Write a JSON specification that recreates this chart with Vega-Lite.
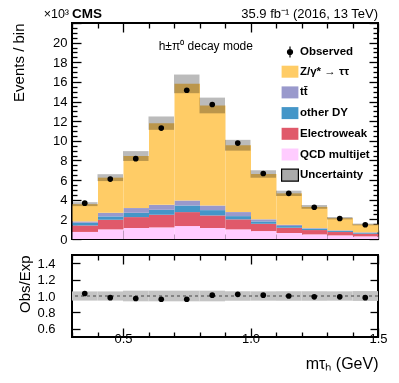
{
  "$schema": "https://vega.github.io/schema/vega-lite/v6.json",
  "padding": {"left": 10, "top": 6, "right": 18, "bottom": 4},
  "config": {
    "font": "Liberation Sans",
    "view": {"stroke": "black", "strokeWidth": 2},
    "axis": {"domain": false, "grid": false, "tickColor": "black", "tickWidth": 1.3, "labelColor": "black", "titleColor": "black", "labelFont": "Liberation Sans", "titleFont": "Liberation Sans", "labelFontSize": 13, "titleFontSize": 15, "titleFontWeight": "normal", "labelOverlap": false, "labelFlush": false}
  },
  "spacing": 6,
  "datasets": {
    "stackorder": [
      {"process":"QCD multijet","k":1},
      {"process":"Electroweak","k":2},
      {"process":"other DY","k":3},
      {"process":"tt\u0304","k":4},
      {"process":"Z/γ* → ττ","k":5}
    ],
    "mc": [
      {"start":0.3,"end":0.4,"process":"QCD multijet","value":0.72},
      {"start":0.4,"end":0.5,"process":"QCD multijet","value":0.98},
      {"start":0.5,"end":0.6,"process":"QCD multijet","value":1.12},
      {"start":0.6,"end":0.7,"process":"QCD multijet","value":1.18},
      {"start":0.7,"end":0.8,"process":"QCD multijet","value":1.32},
      {"start":0.8,"end":0.9,"process":"QCD multijet","value":1.12},
      {"start":0.9,"end":1.0,"process":"QCD multijet","value":0.98},
      {"start":1.0,"end":1.1,"process":"QCD multijet","value":0.81},
      {"start":1.1,"end":1.2,"process":"QCD multijet","value":0.61},
      {"start":1.2,"end":1.3,"process":"QCD multijet","value":0.47},
      {"start":1.3,"end":1.4,"process":"QCD multijet","value":0.37},
      {"start":1.4,"end":1.5,"process":"QCD multijet","value":0.27},
      {"start":0.3,"end":0.4,"process":"Electroweak","value":0.66},
      {"start":0.4,"end":0.5,"process":"Electroweak","value":0.98},
      {"start":0.5,"end":0.6,"process":"Electroweak","value":1.11},
      {"start":0.6,"end":0.7,"process":"Electroweak","value":1.29},
      {"start":0.7,"end":0.8,"process":"Electroweak","value":1.42},
      {"start":0.8,"end":0.9,"process":"Electroweak","value":1.28},
      {"start":0.9,"end":1.0,"process":"Electroweak","value":1.02},
      {"start":1.0,"end":1.1,"process":"Electroweak","value":0.74},
      {"start":1.1,"end":1.2,"process":"Electroweak","value":0.54},
      {"start":1.2,"end":1.3,"process":"Electroweak","value":0.44},
      {"start":1.3,"end":1.4,"process":"Electroweak","value":0.34},
      {"start":1.4,"end":1.5,"process":"Electroweak","value":0.27},
      {"start":0.3,"end":0.4,"process":"other DY","value":0.27},
      {"start":0.4,"end":0.5,"process":"other DY","value":0.34},
      {"start":0.5,"end":0.6,"process":"other DY","value":0.44},
      {"start":0.6,"end":0.7,"process":"other DY","value":0.50},
      {"start":0.7,"end":0.8,"process":"other DY","value":0.67},
      {"start":0.8,"end":0.9,"process":"other DY","value":0.54},
      {"start":0.9,"end":1.0,"process":"other DY","value":0.33},
      {"start":1.0,"end":1.1,"process":"other DY","value":0.24},
      {"start":1.1,"end":1.2,"process":"other DY","value":0.17},
      {"start":1.2,"end":1.3,"process":"other DY","value":0.14},
      {"start":1.3,"end":1.4,"process":"other DY","value":0.10},
      {"start":1.4,"end":1.5,"process":"other DY","value":0.07},
      {"start":0.3,"end":0.4,"process":"tt\u0304","value":0.14},
      {"start":0.4,"end":0.5,"process":"tt\u0304","value":0.37},
      {"start":0.5,"end":0.6,"process":"tt\u0304","value":0.48},
      {"start":0.6,"end":0.7,"process":"tt\u0304","value":0.51},
      {"start":0.7,"end":0.8,"process":"tt\u0304","value":0.51},
      {"start":0.8,"end":0.9,"process":"tt\u0304","value":0.47},
      {"start":0.9,"end":1.0,"process":"tt\u0304","value":0.41},
      {"start":1.0,"end":1.1,"process":"tt\u0304","value":0.21},
      {"start":1.1,"end":1.2,"process":"tt\u0304","value":0.13},
      {"start":1.2,"end":1.3,"process":"tt\u0304","value":0.06},
      {"start":1.3,"end":1.4,"process":"tt\u0304","value":0.07},
      {"start":1.4,"end":1.5,"process":"tt\u0304","value":0.07},
      {"start":0.3,"end":0.4,"process":"Z/γ* → ττ","value":1.76},
      {"start":0.4,"end":0.5,"process":"Z/γ* → ττ","value":3.58},
      {"start":0.5,"end":0.6,"process":"Z/γ* → ττ","value":5.30},
      {"start":0.6,"end":0.7,"process":"Z/γ* → ττ","value":8.32},
      {"start":0.7,"end":0.8,"process":"Z/γ* → ττ","value":11.88},
      {"start":0.8,"end":0.9,"process":"Z/γ* → ττ","value":10.19},
      {"start":0.9,"end":1.0,"process":"Z/γ* → ττ","value":6.81},
      {"start":1.0,"end":1.1,"process":"Z/γ* → ττ","value":4.62},
      {"start":1.1,"end":1.2,"process":"Z/γ* → ττ","value":3.20},
      {"start":1.2,"end":1.3,"process":"Z/γ* → ττ","value":2.16},
      {"start":1.3,"end":1.4,"process":"Z/γ* → ττ","value":1.24},
      {"start":1.4,"end":1.5,"process":"Z/γ* → ττ","value":0.80}
    ],
    "unc": [
      {"start":0.3,"end":0.4,"down":3.35,"up":3.75,"rdown":0.944,"rup":1.056},
      {"start":0.4,"end":0.5,"down":5.90,"up":6.60,"rdown":0.944,"rup":1.056},
      {"start":0.5,"end":0.6,"down":7.95,"up":8.95,"rdown":0.935,"rup":1.065},
      {"start":0.6,"end":0.7,"down":11.12,"up":12.48,"rdown":0.935,"rup":1.065},
      {"start":0.7,"end":0.8,"down":14.85,"up":16.75,"rdown":0.935,"rup":1.065},
      {"start":0.8,"end":0.9,"down":12.80,"up":14.40,"rdown":0.935,"rup":1.065},
      {"start":0.9,"end":1.0,"down":9.00,"up":10.10,"rdown":0.942,"rup":1.058},
      {"start":1.0,"end":1.1,"down":6.24,"up":7.00,"rdown":0.943,"rup":1.057},
      {"start":1.1,"end":1.2,"down":4.38,"up":4.92,"rdown":0.942,"rup":1.058},
      {"start":1.2,"end":1.3,"down":3.08,"up":3.46,"rdown":0.942,"rup":1.058},
      {"start":1.3,"end":1.4,"down":2.00,"up":2.24,"rdown":0.943,"rup":1.057},
      {"start":1.4,"end":1.5,"down":1.39,"up":1.57,"rdown":0.94,"rup":1.06}
    ],
    "obs": [
      {"x":0.35,"obs":3.65,"ratio":1.03},
      {"x":0.45,"obs":6.10,"ratio":0.98},
      {"x":0.55,"obs":8.18,"ratio":0.97},
      {"x":0.65,"obs":11.30,"ratio":0.96},
      {"x":0.75,"obs":15.15,"ratio":0.96},
      {"x":0.85,"obs":13.70,"ratio":1.01},
      {"x":0.95,"obs":9.77,"ratio":1.02},
      {"x":1.05,"obs":6.67,"ratio":1.01},
      {"x":1.15,"obs":4.65,"ratio":1.00},
      {"x":1.25,"obs":3.23,"ratio":0.99},
      {"x":1.35,"obs":2.09,"ratio":0.99},
      {"x":1.45,"obs":1.45,"ratio":0.98}
    ],
    "one": [{}]
  },
  "vconcat": [
    {
      "width": 306,
      "height": 216,
      "resolve": {"axis": {"x": "independent", "y": "independent"}},
      "layer": [
        {
          "data": {"name": "mc"},
          "transform": [{"lookup": "process", "from": {"data": {"name": "stackorder"}, "key": "process", "fields": ["k"]}}],
          "mark": {"type": "bar", "binSpacing": 0},
          "encoding": {
            "x": {"field": "start", "type": "quantitative", "bin": {"binned": true},
                  "scale": {"domain": [0.3, 1.5], "nice": false, "zero": false},
                  "axis": {"orient": "bottom", "values": [0.3,0.4,0.5,0.6,0.7,0.8,0.9,1.0,1.1,1.2,1.3,1.4,1.5], "labels": false, "title": null,
                           "tickSize": {"condition": {"test": "abs(datum.value*2 - round(datum.value*2)) < 0.001", "value": -9}, "value": -5}}},
            "x2": {"field": "end"},
            "y": {"field": "value", "type": "quantitative", "stack": "zero",
                  "scale": {"domain": [0, 22], "nice": false},
                  "axis": {"orient": "left", "values": [0,0.5,1,1.5,2,2.5,3,3.5,4,4.5,5,5.5,6,6.5,7,7.5,8,8.5,9,9.5,10,10.5,11,11.5,12,12.5,13,13.5,14,14.5,15,15.5,16,16.5,17,17.5,18,18.5,19,19.5,20,20.5,21,21.5,22],
                           "labelExpr": "(datum.value % 2 === 0 && datum.value < 21) ? ('' + datum.value) : ''",
                           "tickSize": {"condition": {"test": "datum.value % 2 === 0", "value": -9}, "value": -5},
                           "labelPadding": 14, "title": "Events / bin", "titleAnchor": "end", "titlePadding": 26}},
            "order": {"field": "k", "type": "quantitative", "sort": "ascending"},
            "color": {"field": "process", "type": "nominal",
                      "scale": {"domain": ["Observed", "Z/γ* → ττ", "tt\u0304", "other DY", "Electroweak", "QCD multijet", "Uncertainty"],
                                "range": ["#000000", "#FFCC66", "#9999CC", "#4496C8", "#E0596A", "#FFCCFF", "#aaaaaa"]},
                      "legend": {"title": null, "orient": "none", "legendX": 211, "legendY": 22, "padding": 0,
                                 "labelFont": "Liberation Sans", "labelFontWeight": "bold", "labelFontSize": 11.5, "labelColor": "black",
                                 "symbolSize": 144, "rowPadding": 2.7, "labelOffset": 3, "labelLimit": 200,
                                 "encode": {"symbols": {"update": {
                                    "shape": [{"test": "datum.label === 'Observed'", "value": "M0,-0.9V0.9M-0.42,0A0.42,0.42 0 1,1 0.42,0A0.42,0.42 0 1,1 -0.42,0Z"}, {"value": "M-1.4,-1H1.4V1H-1.4Z"}],
                                    "stroke": [{"test": "datum.label === 'Observed' || datum.label === 'Uncertainty'", "value": "#000000"}, {"value": "transparent"}],
                                    "strokeWidth": {"value": 1.2},
                                    "opacity": {"value": 1}}}}}}
          }
        },
        {
          "data": {"name": "unc"},
          "mark": {"type": "rect", "fill": "#BBBBBB", "blend": "multiply"},
          "encoding": {
            "x": {"field": "start", "type": "quantitative", "scale": {"domain": [0.3, 1.5], "nice": false, "zero": false}, "axis": null},
            "x2": {"field": "end"},
            "y": {"field": "down", "type": "quantitative", "scale": {"domain": [0, 22], "nice": false}, "axis": null},
            "y2": {"field": "up"}
          }
        },
        {
          "data": {"name": "obs"},
          "mark": {"type": "point", "filled": true, "color": "black", "size": 32, "opacity": 1},
          "encoding": {
            "x": {"field": "x", "type": "quantitative", "scale": {"domain": [0.3, 1.5], "nice": false, "zero": false},
                  "axis": {"orient": "top", "values": [0.3,0.4,0.5,0.6,0.7,0.8,0.9,1.0,1.1,1.2,1.3,1.4,1.5], "labels": false, "title": null,
                           "tickSize": {"condition": {"test": "abs(datum.value*2 - round(datum.value*2)) < 0.001", "value": -9}, "value": -5}}},
            "y": {"field": "obs", "type": "quantitative", "scale": {"domain": [0, 22], "nice": false},
                  "axis": {"orient": "right", "values": [0,0.5,1,1.5,2,2.5,3,3.5,4,4.5,5,5.5,6,6.5,7,7.5,8,8.5,9,9.5,10,10.5,11,11.5,12,12.5,13,13.5,14,14.5,15,15.5,16,16.5,17,17.5,18,18.5,19,19.5,20,20.5,21,21.5,22],
                           "labels": false, "title": null,
                           "tickSize": {"condition": {"test": "datum.value % 2 === 0", "value": -9}, "value": -5}}}
          }
        },
        {
          "data": {"name": "one"},
          "mark": {"type": "text", "text": "h±π⁰ decay mode", "align": "left", "baseline": "middle", "fontSize": 12, "color": "black"},
          "encoding": {"x": {"datum": 0.64, "type": "quantitative", "axis": null}, "y": {"datum": 19.7, "type": "quantitative", "axis": null}}
        },
        {
          "data": {"name": "one"},
          "mark": {"type": "text", "text": "CMS", "align": "left", "baseline": "alphabetic", "fontSize": 13.5, "fontWeight": "bold", "dy": -5, "color": "black"},
          "encoding": {"x": {"datum": 0.3, "type": "quantitative", "axis": null}, "y": {"datum": 22, "type": "quantitative", "axis": null}}
        },
        {
          "data": {"name": "one"},
          "mark": {"type": "text", "text": "×10³", "align": "right", "baseline": "alphabetic", "fontSize": 12.5, "dx": -3, "dy": -5, "color": "black"},
          "encoding": {"x": {"datum": 0.3, "type": "quantitative", "axis": null}, "y": {"datum": 22, "type": "quantitative", "axis": null}}
        },
        {
          "data": {"name": "one"},
          "mark": {"type": "text", "text": "35.9 fb⁻¹ (2016, 13 TeV)", "align": "right", "baseline": "alphabetic", "fontSize": 13, "dy": -5, "color": "black"},
          "encoding": {"x": {"datum": 1.5, "type": "quantitative", "axis": null}, "y": {"datum": 22, "type": "quantitative", "axis": null}}
        }
      ]
    },
    {
      "width": 306,
      "height": 82,
      "resolve": {"axis": {"x": "independent", "y": "independent"}},
      "layer": [
        {
          "data": {"name": "unc"},
          "mark": {"type": "rect", "fill": "#C4C4C4"},
          "encoding": {
            "x": {"field": "start", "type": "quantitative", "scale": {"domain": [0.3, 1.5], "nice": false, "zero": false},
                  "axis": {"orient": "bottom", "values": [0.3,0.4,0.5,0.6,0.7,0.8,0.9,1.0,1.1,1.2,1.3,1.4,1.5], "format": ".1f",
                           "labelExpr": "abs(datum.value*2 - round(datum.value*2)) < 0.001 ? datum.label : ''",
                           "tickSize": {"condition": {"test": "abs(datum.value*2 - round(datum.value*2)) < 0.001", "value": -9}, "value": -5},
                           "labelPadding": 4, "title": "mτₕ (GeV)", "titleAnchor": "end", "titlePadding": 6, "titleFontSize": 16}},
            "x2": {"field": "end"},
            "y": {"field": "rdown", "type": "quantitative", "scale": {"domain": [0.5, 1.5], "nice": false, "zero": false},
                  "axis": {"orient": "left", "values": [0.6, 0.8, 1.0, 1.2, 1.4], "format": ".1f",
                           "tickSize": -8, "labelPadding": 25, "title": "Obs/Exp", "titleAnchor": "end", "titlePadding": 4}},
            "y2": {"field": "rup"}
          }
        },
        {
          "data": {"name": "one"},
          "mark": {"type": "rule", "color": "#444444", "strokeDash": [3, 3], "strokeWidth": 1},
          "encoding": {"y": {"datum": 1.0, "type": "quantitative", "scale": {"domain": [0.5, 1.5], "nice": false, "zero": false}, "axis": null}}
        },
        {
          "data": {"name": "obs"},
          "mark": {"type": "point", "filled": true, "color": "black", "size": 32, "opacity": 1},
          "encoding": {
            "x": {"field": "x", "type": "quantitative", "scale": {"domain": [0.3, 1.5], "nice": false, "zero": false},
                  "axis": {"orient": "top", "values": [0.3,0.4,0.5,0.6,0.7,0.8,0.9,1.0,1.1,1.2,1.3,1.4,1.5], "labels": false, "title": null,
                           "tickSize": {"condition": {"test": "abs(datum.value*2 - round(datum.value*2)) < 0.001", "value": -9}, "value": -5}}},
            "y": {"field": "ratio", "type": "quantitative", "scale": {"domain": [0.5, 1.5], "nice": false, "zero": false},
                  "axis": {"orient": "right", "values": [0.6, 0.8, 1.0, 1.2, 1.4], "labels": false, "title": null, "tickSize": -8}}
          }
        }
      ]
    }
  ]
}
